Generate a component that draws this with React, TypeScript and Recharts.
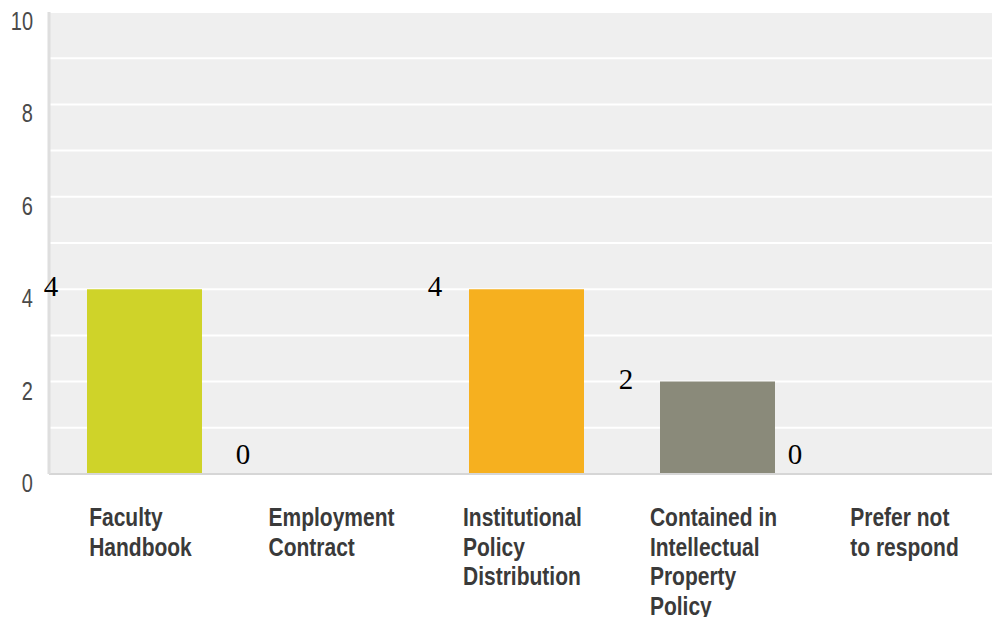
import { BarChart, Bar, XAxis, YAxis, CartesianGrid, Cell, LabelList } from "recharts";

const categories = [
  "Faculty Handbook",
  "Employment Contract",
  "Institutional Policy Distribution",
  "Contained in Intellectual Property Policy",
  "Prefer not to respond",
];
const counts = [4, 0, 4, 2, 0];
const tickLines = [
  ["Faculty", "Handbook"],
  ["Employment", "Contract"],
  ["Institutional", "Policy", "Distribution"],
  ["Contained in", "Intellectual", "Property", "Policy"],
  ["Prefer not", "to respond"],
];
const yTicks = [0, 2, 4, 6, 8, 10];
const gridValues = [0, 1, 2, 3, 4, 5, 6, 7, 8, 9, 10];

const barColors = ["#cfd329", "#cfd329", "#f6b01f", "#8a8a7a", "#8a8a7a"];
// where each value label sits relative to its bar's left edge
const labelDx = [-36, -35, -34, -34, -56];

const data = categories.map((name, i) => ({ name, value: counts[i] }));

const AXIS_FONT = "'Liberation Sans', Arial, sans-serif";
const PLOT_BOTTOM = 474;

let ctx: CanvasRenderingContext2D | null = null;
function textWidth(s: string, font: string) {
  if (!ctx) ctx = document.createElement("canvas").getContext("2d");
  if (!ctx) return s.length * 11;
  ctx.font = font;
  return ctx.measureText(s).width;
}

function CategoryTick(props: any) {
  const { x, payload } = props;
  const i = categories.indexOf(payload.value);
  const lines = tickLines[i] || [payload.value];
  const font = `bold 21px ${AXIS_FONT}`;
  const maxW = Math.max(...lines.map((l) => textWidth(l, font)));
  const left = x - maxW / 2 - 4;
  return (
    <g transform={`translate(${left}, ${PLOT_BOTTOM + 52}) scale(1, 1.2)`}>
      <text x={0} y={0} fill="#3a3a3a" fontFamily={AXIS_FONT} fontWeight="bold" fontSize={21} textAnchor="start">
        {lines.map((l, k) => (
          <tspan key={k} x={0} dy={k === 0 ? 0 : 24.6}>
            {l}
          </tspan>
        ))}
      </text>
    </g>
  );
}

function ValueTick(props: any) {
  const { y, payload } = props;
  return (
    <g transform={`translate(33, ${y + 18}) scale(1, 1.25)`}>
      <text x={0} y={0} fill="#4a4a4a" fontFamily={AXIS_FONT} fontSize={20} textAnchor="end">
        {payload.value}
      </text>
    </g>
  );
}

function ValueLabel(props: any) {
  const { x, y, value, index } = props;
  const baseline = value === 0 ? PLOT_BOTTOM - 10 : y + 7;
  return (
    <text
      x={x + labelDx[index]}
      y={baseline}
      textAnchor="middle"
      fontFamily="'Liberation Serif', 'Times New Roman', serif"
      fontSize={29}
      fill="#000"
    >
      {value}
    </text>
  );
}

export default function App() {
  return (
    <div style={{ position: "absolute", left: 0, top: 0, width: 992, height: 617, overflow: "hidden", background: "#fff" }}>
      <BarChart width={1004} height={617} data={data} margin={{ top: 12, right: 0, left: 0, bottom: 0 }}>
        <CartesianGrid
          vertical={false}
          horizontalValues={gridValues}
          fill="#efefef"
          stroke="#fff"
          strokeWidth={2}
        />
        <XAxis
          dataKey="name"
          interval={0}
          height={143}
          tickLine={false}
          axisLine={{ stroke: "#d6d6d6", strokeWidth: 2 }}
          tick={<CategoryTick />}
        />
        <YAxis
          width={49}
          domain={[0, 10]}
          ticks={yTicks}
          tickLine={false}
          axisLine={{ stroke: "#dedede", strokeWidth: 3 }}
          tick={<ValueTick />}
        />
        <Bar dataKey="value" barSize={115} minPointSize={0.01} isAnimationActive={false}>
          {data.map((d, i) => (
            <Cell key={d.name} fill={barColors[i]} />
          ))}
          <LabelList dataKey="value" content={<ValueLabel />} />
        </Bar>
      </BarChart>
    </div>
  );
}
